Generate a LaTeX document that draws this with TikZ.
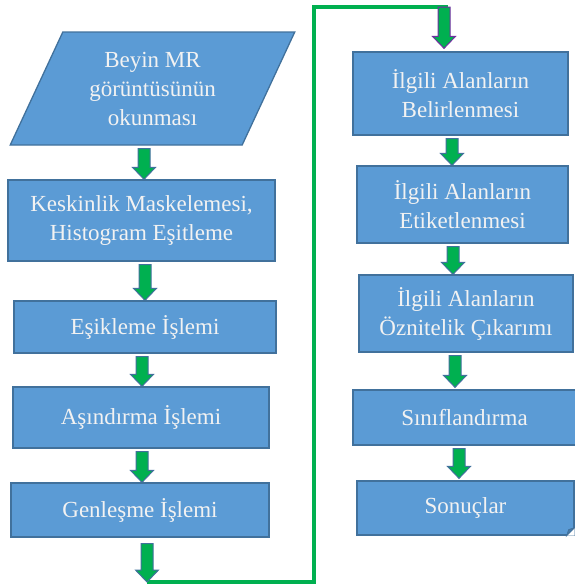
\documentclass[tikz,border=0pt]{standalone}
\usepackage{fontspec}
\setmainfont{Liberation Serif}
\usetikzlibrary{calc,shapes.geometric}

\definecolor{boxfill}{HTML}{5B9BD5}
\definecolor{boxline}{HTML}{41719C}
\definecolor{boxtext}{HTML}{F2F2F2}
\definecolor{arrowfill}{HTML}{00B050}
\definecolor{arrowline}{HTML}{41719C}
\definecolor{arrowtop}{HTML}{7030A0}
\definecolor{linkgreen}{HTML}{00B050}

\tikzset{
    procbox/.style={draw=boxline, fill=boxfill, line width=1.3pt, text=boxtext,
        align=center, inner sep=0pt, font=\fontsize{23}{29}\selectfont},
    inbox/.style={procbox, trapezium, trapezium left angle=63.2,
        trapezium right angle=116.8, trapezium stretches=true},
    linkline/.style={draw=linkgreen, line width=4pt}
}

% Blok ok: (baslangic) (uc)
\newcommand{\blockarrow}[3][]{%
    \path[draw=arrowline, fill=arrowfill, line width=1pt, #1]
        let \p1=#2, \p2=#3 in
        (\x1-6pt,\y1) -- (\x1+6pt,\y1) -- (\x2+6pt,\y2+12pt)
        -- (\x2+11.5pt,\y2+12pt) -- (\x2,\y2) -- (\x2-11.5pt,\y2+12pt)
        -- (\x2-6pt,\y2+12pt) -- cycle;
}

\begin{document}
\begin{tikzpicture}[x=1pt, y=-1pt]
    \useasboundingbox (0,0) rectangle (574,587);

    % Sol sutun
    \node[inbox, minimum width=285pt, minimum height=113pt] (okuma) at (152.5,88.5)
        {Beyin MR\\görüntüsünün\\okunması};
    \node[procbox, minimum width=267pt, minimum height=81pt] (keskin) at (141.5,220.5)
        {Keskinlik Maskelemesi,\\Histogram Eşitleme};
    \node[procbox, minimum width=262pt, minimum height=52pt] (esik) at (145,327)
        {Eşikleme İşlemi};
    \node[procbox, minimum width=256pt, minimum height=61pt] (asin) at (141,417.5)
        {Aşındırma İşlemi};
    \node[procbox, minimum width=258pt, minimum height=54pt] (genles) at (140,510)
        {Genleşme İşlemi};

    % Sag sutun
    \node[procbox, minimum width=215pt, minimum height=83pt] (belir) at (460.5,93.5)
        {İlgili Alanların\\Belirlenmesi};
    \node[procbox, minimum width=211pt, minimum height=77pt] (etiket) at (462.5,204.5)
        {İlgili Alanların\\Etiketlenmesi};
    \node[procbox, minimum width=214pt, minimum height=77pt] (oznit) at (466,313.5)
        {İlgili Alanların\\Öznitelik Çıkarımı};
    \node[procbox, minimum width=223pt, minimum height=55pt] (sinif) at (464.5,417.5)
        {Sınıflandırma};
    \node[procbox, minimum width=217pt, minimum height=54pt] (sonuc) at (465.5,508)
        {Sonuçlar};
    % kivrik kose
    \fill[white] (sonuc.south east) -- ++(-8,0) -- ++(8,-8) -- cycle;
    \filldraw[fill=boxline!80!boxfill, draw=boxline, line width=0.8pt]
        ($(sonuc.south east)+(-8,0)$) -- ++(8,-8) -- ++(-6,2) -- cycle;

    % Sutunlar arasi baglanti
    \coordinate (donusA) at (147,582);
    \coordinate (tepe) at (314,7);
    \coordinate (donusB) at (448,7);
    \draw[linkline] (donusA) -| (tepe) -- (donusB);

    % Oklar
    \blockarrow{($(okuma.south)+(-8.5,3)$)}{($(keskin.north)+(2.5,0)$)}
    \blockarrow{($(keskin.south)+(3.5,3)$)}{($(esik.north)+(0,0)$)}
    \blockarrow{($(esik.south)+(-3,3)$)}{($(asin.north)+(1,0)$)}
    \blockarrow{($(asin.south)+(1,3)$)}{($(genles.north)+(2,0)$)}
    \blockarrow{($(genles.south)+(7,6)$)}{(donusA)}
    \blockarrow[draw=arrowtop]{($(donusB)+(-4,0)$)}{($(belir.north)+(-16.5,-3)$)}
    \blockarrow{($(belir.south)+(-8.5,3)$)}{($(etiket.north)+(-10.5,0)$)}
    \blockarrow{($(etiket.south)+(-9.5,3)$)}{($(oznit.north)+(-13,0)$)}
    \blockarrow{($(oznit.south)+(-11,3)$)}{($(sinif.north)+(-9.5,-2)$)}
    \blockarrow{($(sinif.south)+(-5.5,3)$)}{($(sonuc.north)+(-6.5,-2)$)}
\end{tikzpicture}
\end{document}
